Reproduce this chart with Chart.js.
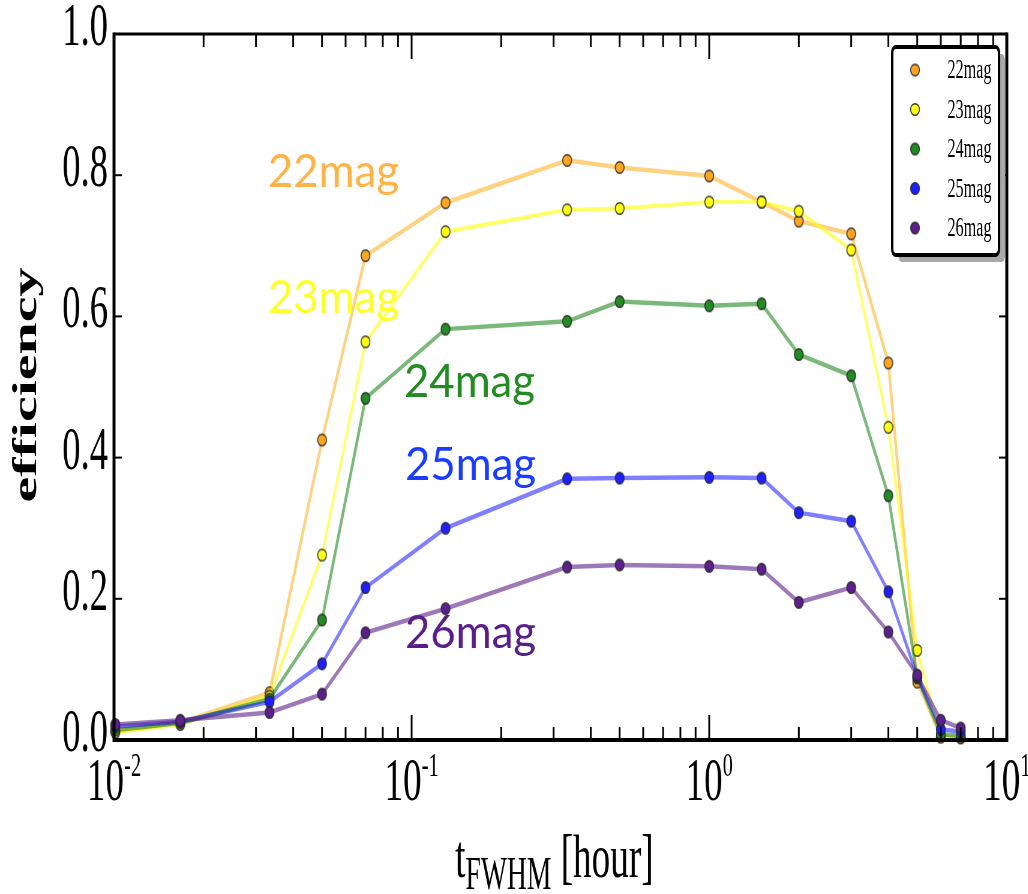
<!DOCTYPE html>
<html>
<head>
<meta charset="utf-8">
<script src="https://cdn.jsdelivr.net/npm/chart.js@4.4.0/dist/chart.umd.min.js"></script>
<style>
  html, body { margin: 0; padding: 0; overflow: hidden; background: #fff; }
  /* the figure is drawn wide and squeezed horizontally */
  #wrap { width: 1714px; height: 894px; transform: scaleX(0.6); transform-origin: 0 0; }
</style>
</head>
<body>
<div id="wrap"><canvas id="effChart" width="1714" height="894"></canvas></div>
<script>
// detection efficiency vs. transient duration (t_FWHM, hours)
const tHours = [0.0101, 0.0167, 0.0333, 0.05, 0.07, 0.13, 0.333, 0.5, 1, 1.5, 2, 3, 4, 5, 6, 7];
const eff22 = [0.012, 0.025, 0.067, 0.425, 0.686, 0.761, 0.821, 0.811, 0.799, 0.762, 0.735, 0.717, 0.534, 0.082, 0.005, 0.003];
const eff23 = [0.011, 0.022, 0.062, 0.262, 0.564, 0.720, 0.751, 0.753, 0.762, 0.762, 0.749, 0.694, 0.443, 0.127, 0.004, 0.004];
const eff24 = [0.014, 0.024, 0.058, 0.170, 0.484, 0.582, 0.593, 0.621, 0.615, 0.618, 0.546, 0.516, 0.346, 0.088, 0.008, 0.006];
const eff25 = [0.019, 0.026, 0.054, 0.108, 0.216, 0.300, 0.370, 0.371, 0.372, 0.371, 0.322, 0.310, 0.210, 0.090, 0.015, 0.012];
const eff26 = [0.022, 0.028, 0.039, 0.065, 0.152, 0.186, 0.245, 0.248, 0.246, 0.242, 0.195, 0.216, 0.153, 0.092, 0.028, 0.017];
const magNames = ['22mag', '23mag', '24mag', '25mag', '26mag'];
const yTickValues = [0, 0.2, 0.4, 0.6, 0.8, 1.0];
const xDecades = [-2, -1, 0, 1];

const series = [eff22, eff23, eff24, eff25, eff26];
const markerFill = ['#ffa520', '#ffff10', '#228b22', '#1f1fff', '#5c1f8c'];
const lineColor = ['rgba(255,165,0,0.5)', 'rgba(255,255,0,0.6)', 'rgba(34,139,34,0.6)',
                   'rgba(0,0,255,0.5)', 'rgba(92,31,140,0.6)'];
const lineWidth = [4.5, 4, 4.5, 4.5, 4.5];
const textColor = ['#ffb347', '#ffff2e', '#228b22', '#1a3cff', '#5a1e8c'];

// where the in-plot magnitude labels sit (data space: hours, efficiency)
const annotX = [0.0329, 0.0329, 0.0942, 0.095, 0.095];
const annotY = [0.783, 0.605, 0.486, 0.368, 0.130];

const SERIF = '"Liberation Serif", "Times New Roman", serif';

function makeMarker(fill) {
  const c = document.createElement('canvas');
  c.width = 18; c.height = 15;
  const g = c.getContext('2d');
  g.beginPath();
  g.ellipse(9, 7.5, 7.4, 5.8, 0, 0, Math.PI * 2);
  g.fillStyle = fill;
  g.fill();
  g.lineWidth = 1.6;
  g.strokeStyle = 'rgba(40,40,40,0.9)';
  g.stroke();
  return c;
}
const markers = markerFill.map(makeMarker);

function seg(ctx, x1, y1, x2, y2) {
  ctx.beginPath();
  ctx.moveTo(x1, y1);
  ctx.lineTo(x2, y2);
  ctx.stroke();
}

const frameAndText = {
  id: 'frameAndText',
  afterDraw(chart) {
    const {ctx, chartArea: a, scales: {x, y}} = chart;
    ctx.save();
    ctx.strokeStyle = '#000';
    ctx.fillStyle = '#000';

    // log ticks, pointing inward, bottom and top
    ctx.lineWidth = 3;
    xDecades.forEach((e, i) => {
      const px = x.getPixelForValue(Math.pow(10, e));
      seg(ctx, px, a.bottom, px, a.bottom - 25);
      seg(ctx, px, a.top, px, a.top + 25);
      if (i < xDecades.length - 1) {
        for (let m = 2; m <= 9; m++) {
          const mx = x.getPixelForValue(m * Math.pow(10, e));
          seg(ctx, mx, a.bottom, mx, a.bottom - 13);
          seg(ctx, mx, a.top, mx, a.top + 13);
        }
      }
    });
    ctx.lineWidth = 2;
    yTickValues.forEach(v => {
      const py = y.getPixelForValue(v);
      seg(ctx, a.left, py, a.left + 13, py);
      seg(ctx, a.right, py, a.right - 13, py);
    });

    // frame
    ctx.lineWidth = 5;
    seg(ctx, a.left, a.top - 1.5, a.left, a.bottom + 2);
    seg(ctx, a.right, a.top - 1.5, a.right, a.bottom + 2);
    ctx.lineWidth = 3;
    seg(ctx, a.left, a.top, a.right, a.top);
    ctx.lineWidth = 4;
    seg(ctx, a.left, a.bottom, a.right, a.bottom);

    // x tick labels 10^n
    xDecades.forEach(e => {
      const px = x.getPixelForValue(Math.pow(10, e));
      ctx.font = '62px ' + SERIF;
      const wb = ctx.measureText('10').width;
      ctx.font = '34px ' + SERIF;
      const sup = String(e);
      const ws = ctx.measureText(sup).width;
      const x0 = px - (wb + ws) / 2;
      ctx.textAlign = 'left';
      ctx.textBaseline = 'alphabetic';
      ctx.font = '62px ' + SERIF;
      ctx.fillText('10', x0, 800);
      ctx.font = '34px ' + SERIF;
      ctx.fillText(sup, x0 + wb, 776);
    });

    // x axis title: t_FWHM [hour]
    ctx.font = '62px ' + SERIF;
    const wT = ctx.measureText('t').width;
    const wR = ctx.measureText(' [hour]').width;
    ctx.font = '46px ' + SERIF;
    const wS = ctx.measureText('FWHM').width;
    let tx = (a.left + a.right) / 2 - (wT + wS + wR) / 2 - 10;
    ctx.font = '62px ' + SERIF;
    ctx.fillText('t', tx, 877);
    tx += wT;
    ctx.font = '46px ' + SERIF;
    ctx.fillText('FWHM', tx, 889);
    tx += wS;
    ctx.font = '62px ' + SERIF;
    ctx.fillText(' [hour]', tx, 877);

    // y axis title
    ctx.save();
    ctx.translate(60, (a.top + a.bottom) / 2 - 2);
    ctx.rotate(-Math.PI / 2);
    ctx.textAlign = 'center';
    ctx.font = 'bold 58px ' + SERIF;
    ctx.fillText('efficiency', 0, 0);
    ctx.restore();

    // magnitude labels inside the plot
    magNames.forEach((name, i) => {
      ctx.save();
      ctx.translate(x.getPixelForValue(annotX[i]), y.getPixelForValue(annotY[i]));
      ctx.scale(1.55, 1);
      ctx.font = '47px Lato, "Open Sans", sans-serif';
      ctx.fillStyle = textColor[i];
      ctx.textAlign = 'left';
      ctx.fillText(name, 0, 0);
      ctx.restore();
    });

    // legend box with drop shadow
    const bw = 178, bh = 208;
    const bx = a.right - 13 - bw, by = a.top + 13;
    ctx.fillStyle = '#a8a8a8';
    ctx.beginPath();
    ctx.roundRect(bx + 10, by + 7, bw, bh, 6);
    ctx.fill();
    ctx.fillStyle = '#fff';
    ctx.beginPath();
    ctx.roundRect(bx, by, bw, bh, 6);
    ctx.fill();
    ctx.lineWidth = 4;
    ctx.strokeStyle = '#000';
    ctx.stroke();
    ctx.font = '27px ' + SERIF;
    ctx.textBaseline = 'middle';
    ctx.textAlign = 'left';
    chart.data.datasets.forEach((ds, i) => {
      const ry = by + 23 + i * 39.5;
      const mk = ds.pointStyle;
      ctx.drawImage(mk, bx + 38 - mk.width / 2, ry - mk.height / 2);
      ctx.fillStyle = '#000';
      ctx.fillText(ds.label, bx + 92, ry + 1);
    });
    ctx.restore();
  }
};

new Chart(document.getElementById('effChart'), {
  type: 'line',
  data: {
    datasets: series.map((vals, i) => ({
      label: magNames[i],
      data: tHours.map((t, j) => ({x: t, y: vals[j]})),
      borderColor: lineColor[i],
      borderWidth: lineWidth[i],
      pointStyle: markers[i],
      pointRadius: 6,
      pointHoverRadius: 6,
      tension: 0,
      fill: false,
      clip: false,
      order: series.length - i,
    })),
  },
  options: {
    responsive: false,
    maintainAspectRatio: false,
    animation: false,
    devicePixelRatio: 1,
    layout: { padding: { left: 0, right: 36, top: 34, bottom: 0 } },
    plugins: { legend: { display: false }, tooltip: { enabled: false } },
    scales: {
      x: {
        type: 'logarithmic',
        min: 0.01,
        max: 10,
        grid: { display: false, drawTicks: false },
        border: { display: false },
        ticks: { display: false },
        afterFit: s => {
          s.height = 154;
          s.paddingLeft = 0;
          s.paddingRight = 0;
        },
      },
      y: {
        min: 0,
        max: 1,
        grid: { display: false, drawTicks: false },
        border: { display: false },
        afterBuildTicks: s => { s.ticks = yTickValues.map(v => ({value: v})); },
        ticks: {
          padding: 10,
          labelOffset: -5,
          color: '#000',
          font: { family: SERIF, size: 61 },
          callback: v => Number(v).toFixed(1),
        },
        afterFit: s => {
          s.width = 190;
          s.paddingTop = 0;
          s.paddingBottom = 0;
        },
      },
    },
  },
  plugins: [frameAndText],
});
</script>
</body>
</html>
